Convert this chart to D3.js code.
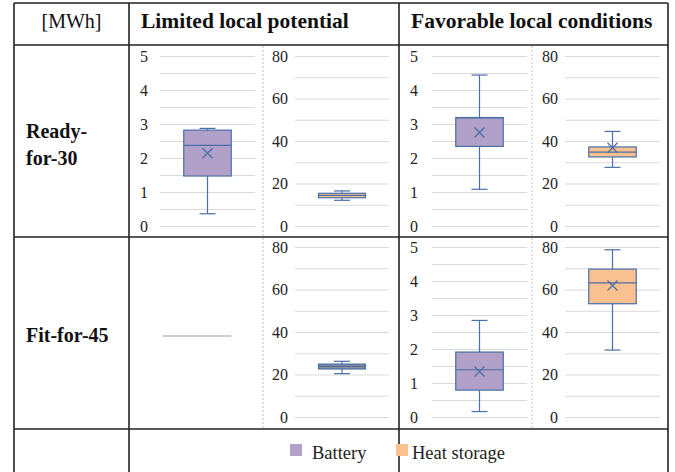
<!DOCTYPE html>
<html><head><meta charset="utf-8">
<script src="https://cdn.jsdelivr.net/npm/d3@7"></script>
<style>
html,body{margin:0;padding:0;background:#fff;}
svg{display:block;}
</style></head>
<body>
<svg id="c" width="675" height="472"></svg>
<script>
// ---------- data ----------
const columns = ["Limited local potential", "Favorable local conditions"];
const rows = ["Ready-for-30", "Fit-for-45"];
const rowLabelLines = [["Ready-", "for-30"], ["Fit-for-45"]];
const unitLabel = "[MWh]";
const series = ["Battery", "Heat storage"];
// panel order: [Ready-Limited, Ready-Favorable, Fit-Limited, Fit-Favorable]
const batteryMin    = [0.36, 1.08, null, 0.16];
const batteryQ1     = [1.47, 2.34, null, 0.79];
const batteryMedian = [2.37, 3.18, null, 1.39];
const batteryQ3     = [2.82, 3.19, null, 1.91];
const batteryMax    = [2.87, 4.44, null, 2.84];
const batteryMean   = [2.14, 2.75, null, 1.34];
const heatMin    = [12.1, 27.6, 20.4, 31.5];
const heatQ1     = [13.3, 32.5, 22.6, 53.3];
const heatMedian = [14.4, 34.8, 23.8, 63.1];
const heatQ3     = [15.4, 37.2, 24.9, 69.6];
const heatMax    = [16.5, 44.5, 26.2, 78.7];
const heatMean   = [null, 36.8, null, 61.9];
const batteryTicks = [0, 1, 2, 3, 4, 5];
const batteryGrid  = [0, 0.5, 1, 1.5, 2, 2.5, 3, 3.5, 4, 4.5, 5];
const heatTicks = [0, 20, 40, 60, 80];
const heatGrid  = [0, 10, 20, 30, 40, 50, 60, 70, 80];

// ---------- layout ----------
const svg = d3.select("#c");
const serif = "'Liberation Serif','Times New Roman',serif";
const X = [14, 129, 399, 668];
const Y = [3, 45, 237, 429, 480];
const plotTop = [56, 247];
const plotBottom = [226, 417];
const batteryX = [[160, 255], [432, 527]];
const heatX = [[295, 389], [565, 660]];
const blue = "#4a6fa8";
const fills = {battery: "#b1a0c7", heat: "#f9c18f", gray: "#8e8e98"};
const legendFills = ["#b3a2c7", "#fac090"];

// table borders
const g = svg.append("g");
X.forEach(x => g.append("line").attr("x1", x).attr("x2", x).attr("y1", Y[0]).attr("y2", 472)
  .attr("stroke", "#222").attr("stroke-width", 1.6));
Y.slice(0, 4).forEach(y => g.append("line").attr("x1", X[0]).attr("x2", X[3]).attr("y1", y).attr("y2", y)
  .attr("stroke", "#222").attr("stroke-width", 1.6));
// dotted panel separators
[263, 532].forEach(x => g.append("line").attr("x1", x).attr("x2", x).attr("y1", Y[1] + 1).attr("y2", Y[3] - 1)
  .attr("stroke", "#c8c8c8").attr("stroke-width", 1.2).attr("stroke-dasharray", "2,2"));

// headers
svg.append("text").attr("x", (X[0] + X[1]) / 2).attr("y", 28).attr("text-anchor", "middle")
  .attr("font-family", serif).attr("font-size", 20).attr("fill", "#111").text(unitLabel);
columns.forEach((c, i) => svg.append("text").attr("x", X[i + 1] + 12).attr("y", 28)
  .attr("font-family", serif).attr("font-size", 21.5).attr("font-weight", "bold").attr("fill", "#111").text(c));
// row labels
const rowBase = [[138, 165], [342]];
rowLabelLines.forEach((lines, r) => lines.forEach((t, k) => svg.append("text").attr("x", 26).attr("y", rowBase[r][k])
  .attr("font-family", serif).attr("font-size", 20).attr("font-weight", "bold").attr("fill", "#111").text(t)));

// panels
function drawPanel(r, c, kind, idx) {
  const xr = kind === "battery" ? batteryX[c] : heatX[c];
  const dom = kind === "battery" ? [0, 5] : [0, 80];
  const y = d3.scaleLinear().domain(dom).range([plotBottom[r], plotTop[r]]);
  const xb = d3.scaleBand().domain([kind]).range(xr).paddingInner(0.5).paddingOuter(0.25);
  const pg = svg.append("g");
  const hasData = kind === "battery" ? batteryMin[idx] !== null : true;
  if (kind === "battery" && !hasData) {
    // empty chart placeholder line
    const ym = (plotTop[r] + plotBottom[r]) / 2 + 4;
    pg.append("line").attr("x1", xr[0] + 3).attr("x2", xb(kind) + xb.bandwidth())
      .attr("y1", ym).attr("y2", ym).attr("stroke", "#cfcfcf").attr("stroke-width", 2.2);
    return;
  }
  const grid = kind === "battery" ? batteryGrid : heatGrid;
  const ticks = kind === "battery" ? batteryTicks : heatTicks;
  // gridlines
  const ga = d3.axisLeft(y).tickValues(grid).tickSize(-(xr[1] - xr[0])).tickFormat("");
  const gg = pg.append("g").attr("transform", `translate(${xr[0]},0)`).call(ga);
  gg.select(".domain").remove();
  gg.selectAll(".tick line").attr("stroke", "#d9d9d9").attr("stroke-width", 1);
  // labels
  const pad = kind === "battery" ? (c === 0 ? 12 : 14) : 7;
  const la = d3.axisLeft(y).tickValues(ticks).tickSize(0).tickPadding(pad).tickFormat(d3.format("d"));
  const lg = pg.append("g").attr("transform", `translate(${xr[0]},0)`).call(la);
  lg.attr("font-family", serif).attr("font-size", 16);
  lg.select(".domain").remove();
  lg.selectAll(".tick text").attr("font-family", serif).attr("font-size", 16).attr("fill", "#222");
  // box data
  const s = kind === "battery"
    ? {min: batteryMin[idx], q1: batteryQ1[idx], med: batteryMedian[idx], q3: batteryQ3[idx], max: batteryMax[idx], mean: batteryMean[idx]}
    : {min: heatMin[idx], q1: heatQ1[idx], med: heatMedian[idx], q3: heatQ3[idx], max: heatMax[idx], mean: heatMean[idx]};
  const bx = xb(kind), bw = xb.bandwidth(), cx = bx + bw / 2, cap = 8;
  const fill = (kind === "heat" && r === 1 && c === 0) ? fills.gray : fills[kind];
  pg.append("line").attr("x1", cx).attr("x2", cx).attr("y1", y(s.max)).attr("y2", y(s.q3)).attr("stroke", blue).attr("stroke-width", 1.2);
  pg.append("line").attr("x1", cx).attr("x2", cx).attr("y1", y(s.q1)).attr("y2", y(s.min)).attr("stroke", blue).attr("stroke-width", 1.2);
  [s.max, s.min].forEach(v => pg.append("line").attr("x1", cx - cap).attr("x2", cx + cap).attr("y1", y(v)).attr("y2", y(v))
    .attr("stroke", blue).attr("stroke-width", 1.2));
  pg.append("rect").attr("x", bx).attr("y", y(s.q3)).attr("width", bw).attr("height", Math.max(1, y(s.q1) - y(s.q3)))
    .attr("fill", fill).attr("stroke", blue).attr("stroke-width", 1.2);
  pg.append("line").attr("x1", bx).attr("x2", bx + bw).attr("y1", y(s.med)).attr("y2", y(s.med))
    .attr("stroke", blue).attr("stroke-width", 1.2);
  if (s.mean !== null) {
    const m = 5, my = y(s.mean);
    pg.append("path").attr("d", `M${cx - m},${my - m}L${cx + m},${my + m}M${cx - m},${my + m}L${cx + m},${my - m}`)
      .attr("stroke", blue).attr("stroke-width", 1.3).attr("fill", "none");
  }
}
[0, 1].forEach(r => [0, 1].forEach(c => {
  const idx = r * 2 + c;
  drawPanel(r, c, "battery", idx);
  drawPanel(r, c, "heat", idx);
}));

// legend
const legX = [290, 396];
const legTextX = [312, 412];
series.forEach((s, i) => {
  svg.append("rect").attr("x", legX[i]).attr("y", 444).attr("width", 12).attr("height", 12).attr("fill", legendFills[i]);
  svg.append("text").attr("x", legTextX[i]).attr("y", 459).attr("font-family", serif).attr("font-size", 18.5)
    .attr("fill", "#222").text(s);
});
</script>
</body></html>
